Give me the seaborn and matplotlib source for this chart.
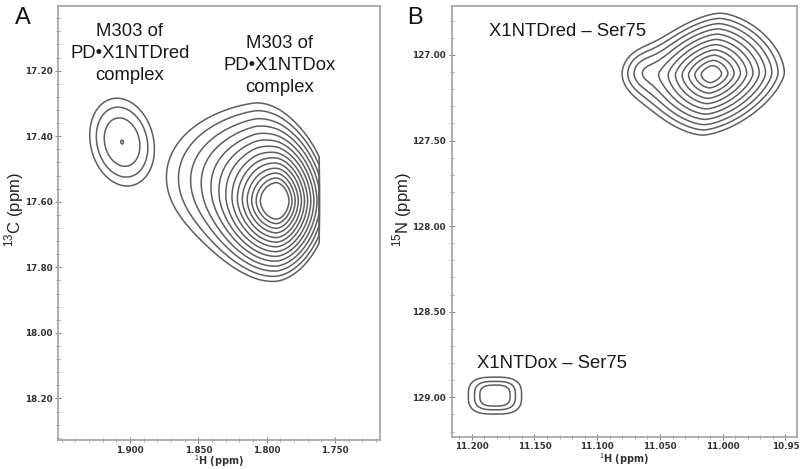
import numpy as np
import matplotlib
matplotlib.use("Agg")
import matplotlib.pyplot as plt
from matplotlib.ticker import MultipleLocator, FixedLocator, FixedFormatter
from matplotlib.font_manager import FontProperties
import seaborn as sns

sns.set_theme(style="white")
plt.rcParams['font.family'] = ['Liberation Sans', 'DejaVu Sans']
plt.rcParams['mathtext.fontset'] = 'custom'
plt.rcParams['mathtext.rm'] = 'Liberation Sans'

# ---------------- data ----------------
# Panel A: 1H / 13C (ppm)
A_xticks = [1.900, 1.850, 1.800, 1.750]
A_xticklabels = ["1.900", "1.850", "1.800", "1.750"]
A_yticks = [17.20, 17.40, 17.60, 17.80, 18.00, 18.20]
A_yticklabels = ["17.20", "17.40", "17.60", "17.80", "18.00", "18.20"]
A_xlim = (1.9527, 1.717)
A_ylim = (18.327, 17.003)
A_window_edge = 1.7615          # spectral window edge (no data to the right)

# peak components: centre H, centre X, width H, width X, amplitude, shape exponent,
# shear, softness of the peak top, width factor on the low-ppm side
A_red_cx = [1.9058]
A_red_cy = [17.418]
A_red_wx = [0.0078]
A_red_wy = [0.0447]
A_red_amp = [1.0]
A_red_p = [2.0]
A_red_shear = [-0.028]
A_red_soft = [0.0]
A_red_skew = [1.0]
A_red_levels = [0.050, 0.092, 0.192, 0.88]

A_ox_cx = [1.7927, 1.810]
A_ox_cy = [17.598, 17.52]
A_ox_wx = [0.011, 0.035]
A_ox_wy = [0.053, 0.11]
A_ox_amp = [1.0, 0.038]
A_ox_p = [1.8, 2.0]
A_ox_shear = [0.0, 0.0]
A_ox_soft = [0.0, 1.0]
A_ox_skew = [0.8, 0.4]
A_ox_levels = [0.0136, 0.0174, 0.0226, 0.0290, 0.0376, 0.0483, 0.0620,
               0.0804, 0.1033, 0.1327, 0.172, 0.221, 0.287, 0.368]

# Panel B: 1H / 15N (ppm)
B_xticks = [11.200, 11.150, 11.100, 11.050, 11.000, 10.95]
B_xticklabels = ["11.200", "11.150", "11.100", "11.050", "11.000", "10.95"]
B_yticks = [127.00, 127.50, 128.00, 128.50, 129.00]
B_yticklabels = ["127.00", "127.50", "128.00", "128.50", "129.00"]
B_xlim = (11.216, 10.941)
B_ylim = (129.23, 126.714)

B_red_cx = [11.009, 11.062]
B_red_cy = [127.112, 127.10]
B_red_wx = [0.0135, 0.010]
B_red_wy = [0.0828, 0.07]
B_red_amp = [1.0, 0.025]
B_red_p = [1.6, 2.0]
B_red_shear = [0.0196, 0.0]
B_red_soft = [0.0, 1.0]
B_red_skew = [1.0, 1.0]
B_red_levels = [0.0136, 0.0196, 0.0284, 0.0412, 0.0596, 0.0863, 0.125,
                0.181, 0.262, 0.379, 0.549]

B_ox_cx = [11.1815]
B_ox_cy = [128.99]
B_ox_wx = [0.00708]
B_ox_wy = [0.036]
B_ox_amp = [1.0]
B_ox_p = [3.0]
B_ox_shear = [0.0]
B_ox_soft = [0.0]
B_ox_skew = [1.0]
B_ox_levels = [0.050, 0.100, 0.183]

LINE = "#5e5e5e"
SPINE = "#a8a8a8"


def field(X, Y, cx, cy, wx, wy, amp, p, shear, soft, skew):
    Z = np.zeros_like(X)
    for i in range(len(cx)):
        dx = X - cx[i] - shear[i] * (Y - cy[i])
        dx = np.where(dx < 0, dx / (wx[i] * skew[i]), dx / wx[i])
        dy = (Y - cy[i]) / wy[i]
        rho = (np.abs(dx) ** p[i] + np.abs(dy) ** p[i]) ** (1.0 / p[i])
        rho = np.sqrt(rho ** 2 + soft[i] ** 2) - soft[i]
        Z += amp[i] * np.exp(-rho)
    return Z


fig = plt.figure(figsize=(8, 4.69), dpi=100)
axA = fig.add_axes([0.0725, 0.0618, 0.4025, 0.9252])
axB = fig.add_axes([0.5646, 0.0689, 0.4313, 0.9183])

# ---- panel A
xa = np.linspace(A_xlim[1], A_xlim[0], 700)
ya = np.linspace(A_ylim[1], A_ylim[0], 700)
XA, YA = np.meshgrid(xa, ya)
ZA_red = field(XA, YA, A_red_cx, A_red_cy, A_red_wx, A_red_wy, A_red_amp, A_red_p,
               A_red_shear, A_red_soft, A_red_skew)
ZA_ox = field(XA, YA, A_ox_cx, A_ox_cy, A_ox_wx, A_ox_wy, A_ox_amp, A_ox_p,
              A_ox_shear, A_ox_soft, A_ox_skew)
ZA_ox[XA < A_window_edge] = 0.0
axA.contour(XA, YA, ZA_red, levels=A_red_levels, colors=LINE, linewidths=1.1)
axA.contour(XA, YA, ZA_ox, levels=A_ox_levels, colors=LINE, linewidths=1.1)

# ---- panel B
xb = np.linspace(B_xlim[1], B_xlim[0], 700)
yb = np.linspace(B_ylim[1], B_ylim[0], 700)
XB, YB = np.meshgrid(xb, yb)
ZB_red = field(XB, YB, B_red_cx, B_red_cy, B_red_wx, B_red_wy, B_red_amp, B_red_p,
               B_red_shear, B_red_soft, B_red_skew)
ZB_ox = field(XB, YB, B_ox_cx, B_ox_cy, B_ox_wx, B_ox_wy, B_ox_amp, B_ox_p,
              B_ox_shear, B_ox_soft, B_ox_skew)
axB.contour(XB, YB, ZB_red, levels=B_red_levels, colors=LINE, linewidths=1.1)
axB.contour(XB, YB, ZB_ox, levels=B_ox_levels, colors=LINE, linewidths=1.1)

tickfont = FontProperties(family='DejaVu Sans', weight='bold', size=6.3)

for ax, xl, yl, xt, xtl, yt, ytl, xmin, ymin in [
        (axA, A_xlim, A_ylim, A_xticks, A_xticklabels, A_yticks, A_yticklabels, 0.01, 0.04),
        (axB, B_xlim, B_ylim, B_xticks, B_xticklabels, B_yticks, B_yticklabels, 0.01, 0.1)]:
    ax.set_xlim(*xl)
    ax.set_ylim(*yl)
    ax.xaxis.set_major_locator(FixedLocator(xt))
    ax.xaxis.set_major_formatter(FixedFormatter(xtl))
    ax.yaxis.set_major_locator(FixedLocator(yt))
    ax.yaxis.set_major_formatter(FixedFormatter(ytl))
    ax.xaxis.set_minor_locator(MultipleLocator(xmin))
    ax.yaxis.set_minor_locator(MultipleLocator(ymin))
    ax.tick_params(which='major', direction='inout', length=4, width=0.8,
                   color='#888888', labelcolor='#333333', pad=2, bottom=True, left=True)
    ax.tick_params(which='minor', direction='inout', length=2.5, width=0.6,
                   color='#999999', bottom=True, left=True)
    for lab in ax.get_xticklabels() + ax.get_yticklabels():
        lab.set_fontproperties(tickfont)
    for s in ax.spines.values():
        s.set_color(SPINE)
        s.set_linewidth(1.3)
    ax.set_facecolor('white')

axA.set_ylabel(r'$^{13}$C (ppm)', fontsize=12, color='#222222')
axA.yaxis.set_label_coords(-0.100, 0.53)
axB.set_ylabel(r'$^{15}$N (ppm)', fontsize=12, color='#222222')
axB.yaxis.set_label_coords(-0.108, 0.526)

for ax, yc in [(axA, -0.030), (axB, -0.033)]:
    ax.set_xlabel(r'$^{1}$H (ppm)', fontsize=7, fontweight='bold', family='DejaVu Sans',
                  color='#333333')
    ax.xaxis.set_label_coords(0.5, yc)

fig.text(15 / 800, 1 - 18 / 469, 'A', fontsize=17, ha='left', va='center', color='#111111')
fig.text(407 / 800, 1 - 18 / 469, 'B', fontsize=17, ha='left', va='center', color='#111111')

fig.text(0.1625, 0.885, 'M303 of\nPD\u2022X1NTDred\ncomplex', fontsize=13.3, ha='center',
         va='center', linespacing=1.38, color='#1a1a1a')
fig.text(0.35, 0.861, 'M303 of\nPD\u2022X1NTDox\ncomplex', fontsize=13.3, ha='center',
         va='center', linespacing=1.38, color='#1a1a1a')
fig.text(489 / 800, 1 - 31 / 469, 'X1NTDred \u2013 Ser75', fontsize=13.3, ha='left',
         va='center', color='#1a1a1a')
fig.text(477 / 800, 1 - 363 / 469, 'X1NTDox \u2013 Ser75', fontsize=13.3, ha='left',
         va='center', color='#1a1a1a')

fig.savefig('out.png', dpi=100, facecolor='white')
